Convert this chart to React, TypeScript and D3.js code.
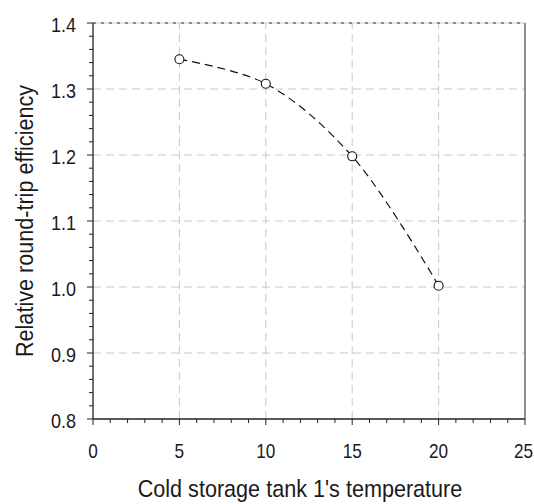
import React from "react";
import * as d3 from "d3";

const temps = [5, 10, 15, 20];
const efficiency = [1.345, 1.308, 1.198, 1.002];
const xTicks = [0, 5, 10, 15, 20, 25];
const yTicks = [0.8, 0.9, 1.0, 1.1, 1.2, 1.3, 1.4];
const xTitle = "Cold storage tank 1's temperature";
const yTitle = "Relative round-trip efficiency";

const W = 534, H = 504;
const m = { left: 93, right: 9, top: 23, bottom: 85 };
const font = "'Liberation Sans', Arial, sans-serif";

function NText(props: { x: number; y: number; anchor: string; size: number; sx: number; rotate?: number; children: React.ReactNode }) {
  const { x, y, anchor, size, sx, rotate, children } = props;
  const tr = `translate(${x},${y})${rotate ? ` rotate(${rotate})` : ""} scale(${sx},1)`;
  return (
    <text transform={tr} textAnchor={anchor} fontFamily={font} fontSize={size} fill="#1a1a1a">{children}</text>
  );
}

export default function App() {
  const x = d3.scaleLinear().domain([0, 25]).range([m.left, W - m.right]);
  const y = d3.scaleLinear().domain([0.8, 1.4]).range([H - m.bottom, m.top]);
  const pts = temps.map((t, i) => [t, efficiency[i]] as [number, number]);
  const line = d3.line<[number, number]>().x(d => x(d[0])).y(d => y(d[1])).curve(d3.curveCatmullRom.alpha(0.5));
  const xMinor = d3.range(0, 26, 1);
  const yMinor = d3.range(0, 31).map(i => 0.8 + i * 0.02);
  const x0 = x(0), x1 = x(25), y0 = y(0.8), y1 = y(1.4);
  return (
    <svg width={W} height={H} style={{ position: "absolute", left: 0, top: 0, background: "#fff" }}>
      {xTicks.slice(1, -1).map(t => (
        <line key={"gx" + t} x1={x(t)} x2={x(t)} y1={y0} y2={y1} stroke="#c8c8c8" strokeWidth={1} strokeDasharray="8,5" />
      ))}
      {yTicks.slice(1, -1).map(t => (
        <line key={"gy" + t} x1={x0} x2={x1} y1={y(t)} y2={y(t)} stroke="#c8c8c8" strokeWidth={1} strokeDasharray="8,5" />
      ))}
      <line x1={x0} x2={x1} y1={y1} y2={y1} stroke="#c8c8c8" strokeWidth={1} />
      <line x1={x0} x2={x1} y1={y1} y2={y1} stroke="#333" strokeWidth={1} strokeDasharray="3,5" />
      <line x1={x1} x2={x1} y1={y1} y2={y0} stroke="#444" strokeWidth={1.2} />
      <line x1={x0} x2={x1} y1={y0} y2={y0} stroke="#222" strokeWidth={1.3} />
      <line x1={x0} x2={x0} y1={y1} y2={y0} stroke="#222" strokeWidth={1.3} />
      {xMinor.map(t => (
        <line key={"xm" + t} x1={x(t)} x2={x(t)} y1={y0} y2={y0 + (t % 5 === 0 ? 6 : 4)} stroke="#222" strokeWidth={1} />
      ))}
      {yMinor.map((t, i) => (
        <line key={"ym" + i} x1={x0} x2={x0 - (i % 5 === 0 ? 6 : 4)} y1={y(t)} y2={y(t)} stroke="#222" strokeWidth={1} />
      ))}
      {xTicks.map(t => (
        <NText key={"xl" + t} x={t === 25 ? x(t) - 1.5 : x(t)} y={y0 + 39} anchor="middle" size={20} sx={0.86}>{t}</NText>
      ))}
      {yTicks.map(t => (
        <NText key={"yl" + t} x={x0 - 17} y={y(t) + 9} anchor="end" size={20} sx={0.9}>{t.toFixed(1)}</NText>
      ))}
      <path d={line(pts) || ""} fill="none" stroke="#111" strokeWidth={1.2} strokeDasharray="8,5" />
      {pts.map((p, i) => (
        <circle key={"c" + i} cx={x(p[0])} cy={y(p[1])} r={4.5} fill="#fff" stroke="#111" strokeWidth={1.1} />
      ))}
      <NText x={300} y={497} anchor="middle" size={24} sx={0.9}>{xTitle}</NText>
      <NText x={33} y={(y0 + y1) / 2} anchor="middle" size={24} sx={0.9} rotate={-90}>{yTitle}</NText>
    </svg>
  );
}
